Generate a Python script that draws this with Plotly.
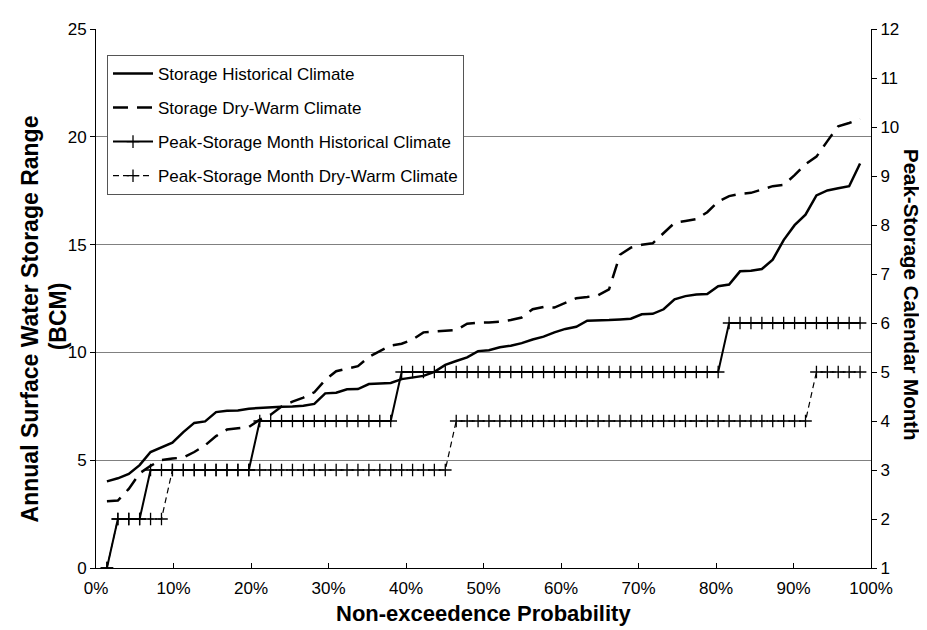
import plotly.graph_objects as go

# Non-exceedence probability (%) of each ranked year (70 years)
prob = [1.41, 2.82, 4.23, 5.63, 7.04, 8.45, 9.86, 11.27, 12.68, 14.08,
        15.49, 16.90, 18.31, 19.72, 21.13, 22.54, 23.94, 25.35, 26.76, 28.17,
        29.58, 30.99, 32.39, 33.80, 35.21, 36.62, 38.03, 39.44, 40.85, 42.25,
        43.66, 45.07, 46.48, 47.89, 49.30, 50.70, 52.11, 53.52, 54.93, 56.34,
        57.75, 59.15, 60.56, 61.97, 63.38, 64.79, 66.20, 67.61, 69.01, 70.42,
        71.83, 73.24, 74.65, 76.06, 77.46, 78.87, 80.28, 81.69, 83.10, 84.51,
        85.92, 87.32, 88.73, 90.14, 91.55, 92.96, 94.37, 95.77, 97.18, 98.59]

# Annual surface water storage range (BCM)
storage_hist = [4.02, 4.16, 4.36, 4.77, 5.38, 5.58, 5.81, 6.30, 6.73, 6.80,
                7.23, 7.29, 7.31, 7.39, 7.43, 7.44, 7.48, 7.49, 7.53, 7.61,
                8.10, 8.13, 8.29, 8.30, 8.53, 8.56, 8.58, 8.76, 8.84, 8.91,
                9.10, 9.42, 9.60, 9.77, 10.06, 10.10, 10.24, 10.31, 10.43, 10.60,
                10.73, 10.93, 11.09, 11.19, 11.47, 11.47, 11.50, 11.53, 11.56, 11.77,
                11.79, 12.00, 12.46, 12.61, 12.69, 12.71, 13.07, 13.15, 13.76, 13.79,
                13.87, 14.30, 15.21, 15.90, 16.39, 17.28, 17.51, 17.61, 17.71, 18.76]

storage_dry = [3.10, 3.13, 3.67, 4.39, 4.74, 5.01, 5.08, 5.12, 5.38, 5.69,
               6.12, 6.42, 6.48, 6.54, 6.88, 7.11, 7.49, 7.72, 7.90, 8.15,
               8.72, 9.13, 9.25, 9.36, 9.79, 10.06, 10.32, 10.40, 10.60, 10.93,
               10.96, 10.99, 11.04, 11.33, 11.38, 11.39, 11.42, 11.50, 11.62, 12.00,
               12.11, 12.08, 12.31, 12.51, 12.57, 12.65, 12.92, 14.53, 14.86, 14.99,
               15.06, 15.52, 16.01, 16.09, 16.18, 16.50, 17.00, 17.25, 17.35, 17.40,
               17.56, 17.71, 17.77, 18.22, 18.73, 19.08, 19.80, 20.49, 20.64, 20.83]

# Peak-storage calendar month
month_hist = [1, 2, 2, 2, 3, 3, 3, 3, 3, 3,
              3, 3, 3, 3, 4, 4, 4, 4, 4, 4,
              4, 4, 4, 4, 4, 4, 4, 5, 5, 5,
              5, 5, 5, 5, 5, 5, 5, 5, 5, 5,
              5, 5, 5, 5, 5, 5, 5, 5, 5, 5,
              5, 5, 5, 5, 5, 5, 5, 6, 6, 6,
              6, 6, 6, 6, 6, 6, 6, 6, 6, 6]

month_dry = [1, 2, 2, 2, 2, 2, 3, 3, 3, 3,
             3, 3, 3, 3, 3, 3, 3, 3, 3, 3,
             3, 3, 3, 3, 3, 3, 3, 3, 3, 3,
             3, 3, 4, 4, 4, 4, 4, 4, 4, 4,
             4, 4, 4, 4, 4, 4, 4, 4, 4, 4,
             4, 4, 4, 4, 4, 4, 4, 4, 4, 4,
             4, 4, 4, 4, 4, 5, 5, 5, 5, 5]

x_ticks = [0, 10, 20, 30, 40, 50, 60, 70, 80, 90, 100]
x_labels = ["0%", "10%", "20%", "30%", "40%", "50%", "60%", "70%", "80%", "90%", "100%"]
left_ticks = [0, 5, 10, 15, 20, 25]
right_ticks = [1, 2, 3, 4, 5, 6, 7, 8, 9, 10, 11, 12]

FONT = "Liberation Sans, Arial, Helvetica, sans-serif"
plus = dict(symbol="cross-thin", size=9, line=dict(color="black", width=1.3), color="black")

fig = go.Figure()
fig.add_trace(go.Scatter(x=prob, y=storage_hist, mode="lines",
                         name="Storage Historical Climate", legendgroup="a",
                         line=dict(color="black", width=2.5)))
fig.add_trace(go.Scatter(x=prob, y=storage_dry, mode="lines",
                         name="Storage Dry-Warm Climate", legendgroup="b",
                         line=dict(color="black", width=2.5, dash="15px,9px")))
fig.add_trace(go.Scatter(x=prob, y=month_hist, yaxis="y2", mode="lines+markers",
                         name="Peak-Storage Month Historical Climate", legendgroup="c",
                         line=dict(color="black", width=2), marker=plus))
fig.add_trace(go.Scatter(x=prob, y=month_dry, yaxis="y2", mode="lines+markers",
                         name="Peak-Storage Month Dry-Warm Climate", legendgroup="d",
                         line=dict(color="black", width=1.2, dash="6px,4px"), marker=plus))

fig.update_layout(
    width=927, height=630,
    margin=dict(l=88, r=64, t=15, b=70),
    paper_bgcolor="white", plot_bgcolor="white",
    font=dict(family=FONT, color="black", size=17),
    showlegend=True,
    legend=dict(x=0.0142, y=0.952, xanchor="left", yanchor="top",
                bgcolor="white", bordercolor="#555555", borderwidth=1,
                font=dict(size=17, family=FONT, color="black"),
                tracegroupgap=9, itemwidth=40, traceorder="grouped"),
    xaxis=dict(range=[0, 100], tickvals=x_ticks, ticktext=x_labels,
               showline=True, linecolor="black", linewidth=1,
               ticks="inside", ticklen=5, tickcolor="black",
               ticklabelstandoff=5,
               showgrid=False, zeroline=False, tickfont=dict(size=17)),
    yaxis=dict(range=[0, 25], tickvals=left_ticks,
               showline=True, linecolor="black", linewidth=1,
               ticks="outside", ticklen=5, tickcolor="black",
               showgrid=True, gridcolor="#808080", gridwidth=1,
               zeroline=False, tickfont=dict(size=17)),
    yaxis2=dict(range=[1, 12], tickvals=right_ticks, overlaying="y", side="right",
                showline=True, linecolor="black", linewidth=1,
                ticks="outside", ticklen=5, tickcolor="black",
                showgrid=False, zeroline=False, tickfont=dict(size=17)),
    annotations=[
        dict(text="<b>Annual Surface Water Storage Range</b>", textangle=-90,
             xref="paper", yref="paper", x=-0.0852, y=0.463,
             xanchor="center", yanchor="middle", showarrow=False,
             font=dict(size=23, family=FONT)),
        dict(text="<b>(BCM)</b>", textangle=-90,
             xref="paper", yref="paper", x=-0.049, y=0.467,
             xanchor="center", yanchor="middle", showarrow=False,
             font=dict(size=23, family=FONT)),
        dict(text="<b>Peak-Storage Calendar Month</b>", textangle=90,
             xref="paper", yref="paper", x=1.052, y=0.506,
             xanchor="center", yanchor="middle", showarrow=False,
             font=dict(size=20.5, family=FONT)),
        dict(text="<b>Non-exceedence Probability</b>",
             xref="paper", yref="paper", x=0.5, y=-0.085,
             xanchor="center", yanchor="middle", showarrow=False,
             font=dict(size=22, family=FONT)),
    ],
)

fig.write_html("out.html")
